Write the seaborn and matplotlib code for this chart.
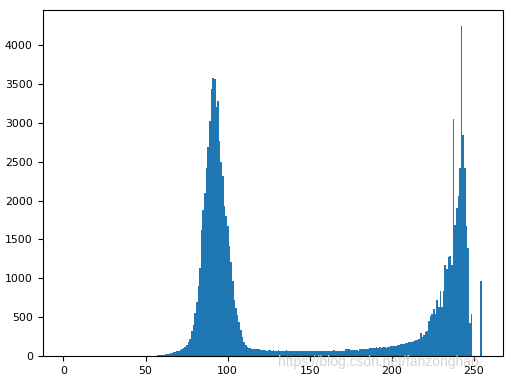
import numpy as np
import matplotlib
matplotlib.use("Agg")
import matplotlib.pyplot as plt
import seaborn as sns

# gray levels 0..255
levels = np.arange(256)

counts_0_54 = [0] * 55
counts_55_119 = [3, 5, 7, 10, 12, 15, 18, 20, 27, 30,
                 36, 42, 48, 55, 60, 66, 80, 90, 105, 120,
                 140, 180, 225, 320, 400, 550, 700, 895, 1135, 1625,
                 1885, 2100, 2425, 2685, 3025, 3430, 3580, 3570, 3200, 3280,
                 2765, 2490, 2315, 1925, 1800, 1670, 1410, 1215, 960, 720,
                 615, 530, 440, 330, 250, 185, 142, 120, 100, 98,
                 92, 88, 86, 85, 84]
counts_120_199 = [80, 76, 82, 74, 70, 78, 72, 68, 75, 70,
                  66, 72, 68, 64, 70, 66, 72, 62, 68, 65,
                  70, 64, 60, 67, 63, 69, 62, 66, 60, 64,
                  68, 62, 66, 60, 65, 70, 62, 66, 64, 68,
                  63, 67, 70, 64, 68, 72, 66, 70, 64, 66,
                  65, 64, 86, 84, 86, 73, 72, 74, 76, 77,
                  60, 95, 93, 86, 85, 90, 88, 100, 98, 102,
                  105, 110, 108, 112, 100, 110, 112, 108, 115, 122]
counts_200_255 = [125, 130, 128, 135, 140, 145, 150, 155, 158, 165,
                  168, 175, 178, 185, 192, 200, 205, 215, 290, 240,
                  270, 305, 320, 445, 520, 545, 600, 540, 715, 630,
                  830, 630, 830, 1175, 1120, 1275, 1290, 1175, 3045, 1690,
                  1905, 2065, 2420, 4240, 2840, 2420, 1670, 1390, 430, 540,
                  0, 0, 0, 0, 0, 960]

counts = np.array(counts_0_54 + counts_55_119 + counts_120_199 + counts_200_255)

fig = plt.figure(figsize=(5.16, 3.80), dpi=100)
ax = fig.add_axes([42.5 / 516, 1 - 356 / 380, (503 - 42.5) / 516, (356 - 10) / 380])

sns.histplot(x=levels, weights=counts, bins=256, binrange=(0, 255),
             color="#1f77b4", alpha=1.0, linewidth=0, element="bars", ax=ax)

ax.set_xlabel("")
ax.set_ylabel("")
ax.tick_params(labelsize=7.8, length=3.5, width=0.8)
for s in ax.spines.values():
    s.set_linewidth(0.8)

fig.text(278 / 516, 1 - 362 / 380, "https://blog.csdn.net/fanzonghao",
         family="Liberation Sans", fontsize=10, color="#cccccc", alpha=0.85,
         ha="left", va="center")

fig.savefig("out.png", dpi=100)
